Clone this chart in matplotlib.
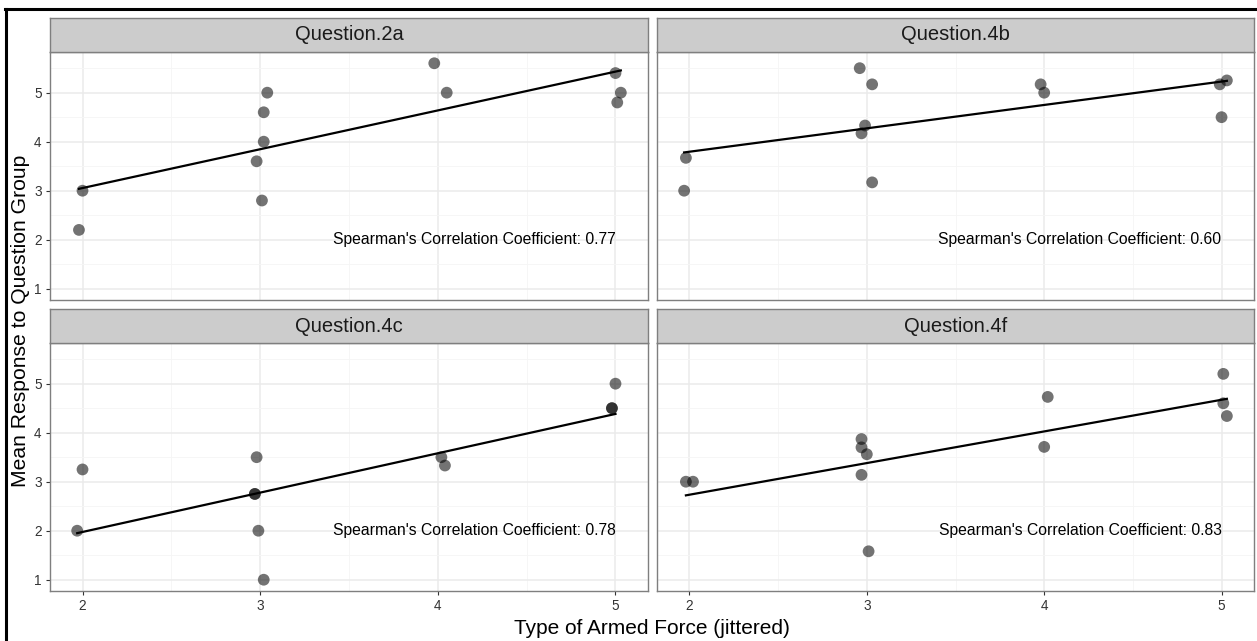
import numpy as np
import matplotlib
matplotlib.use("Agg")
import matplotlib.pyplot as plt
from matplotlib.ticker import MultipleLocator

plt.rcParams['font.family'] = ['Liberation Sans', 'DejaVu Sans']

# jittered points, one pair of lists per question
q2a_x = [1.98, 2.00, 2.98, 3.01, 3.02, 3.02, 3.04, 3.98, 4.05, 5.00, 5.03, 5.01]
q2a_y = [2.20, 3.00, 3.60, 2.80, 4.00, 4.60, 5.00, 5.60, 5.00, 5.40, 5.00, 4.80]

q4b_x = [1.97, 1.98, 2.96, 3.03, 2.99, 2.97, 3.03, 3.98, 4.00, 5.03, 4.99, 5.00]
q4b_y = [3.00, 3.67, 5.50, 5.17, 4.33, 4.17, 3.17, 5.17, 5.00, 5.25, 5.17, 4.50]

q4c_x = [1.97, 2.00, 2.98, 2.97, 2.97, 2.99, 3.02, 4.02, 4.04, 4.98, 4.98, 5.00]
q4c_y = [2.00, 3.25, 3.50, 2.75, 2.75, 2.00, 1.00, 3.50, 3.33, 4.50, 4.50, 5.00]

q4f_x = [1.98, 2.02, 2.97, 2.97, 3.00, 2.97, 3.01, 4.02, 4.00, 5.01, 5.01, 5.03]
q4f_y = [3.00, 3.00, 3.87, 3.70, 3.56, 3.14, 1.58, 4.73, 3.71, 5.20, 4.60, 4.34]

questions = ['Question.2a', 'Question.4b', 'Question.4c', 'Question.4f']
spearman = ['0.77', '0.60', '0.78', '0.83']
x_ticks = [2, 3, 4, 5]
y_ticks = [1, 2, 3, 4, 5]

panels = [(q2a_x, q2a_y), (q4b_x, q4b_y), (q4c_x, q4c_y), (q4f_x, q4f_y)]

W, H = 1257, 641
fig = plt.figure(figsize=(W / 100, H / 100), dpi=100)

# outer black frame of the screenshot (top and left only)
fig.add_artist(plt.Line2D([5 / W, 1], [1 - 9 / H, 1 - 9 / H], color='black', lw=2.2))
fig.add_artist(plt.Line2D([6 / W, 6 / W], [0, 1 - 9 / H], color='black', lw=2.2))

cols = [(50, 648), (657, 1254)]
rows = [(18, 52, 300), (309, 343, 591)]  # strip top, strip bottom / panel top, panel bottom

all_x = q2a_x + q4b_x + q4c_x + q4f_x
all_y = q2a_y + q4b_y + q4c_y + q4f_y
xr = max(all_x) - min(all_x)
yr = max(all_y) - min(all_y)
xlim = (min(all_x) - 0.05 * xr, max(all_x) + 0.05 * xr)
ylim = (min(all_y) - 0.05 * yr, max(all_y) + 0.05 * yr)

border = '#7f7f7f'

for i, (px, py) in enumerate(panels):
    r, c = divmod(i, 2)
    x0, x1 = cols[c]
    st, sb, pb = rows[r]
    ax = fig.add_axes([x0 / W, 1 - pb / H, (x1 - x0) / W, (pb - sb) / H])
    sax = fig.add_axes([x0 / W, 1 - sb / H, (x1 - x0) / W, (sb - st) / H])

    ax.set_xlim(xlim)
    ax.set_ylim(ylim)
    ax.set_xticks(x_ticks)
    ax.set_yticks(y_ticks)
    ax.xaxis.set_minor_locator(MultipleLocator(0.5))
    ax.yaxis.set_minor_locator(MultipleLocator(0.5))
    ax.grid(True, which='major', color='#ebebeb', lw=1.1, zorder=0)
    ax.grid(True, which='minor', color='#f5f5f5', lw=0.6, zorder=0)
    ax.set_axisbelow(True)
    ax.tick_params(which='minor', length=0)
    ax.tick_params(which='major', length=3, width=0.8, color='#333333',
                   labelsize=9.8, labelcolor='#333333', pad=3)
    if r == 0:
        ax.tick_params(axis='x', which='major', length=0, labelbottom=False)
    if c == 1:
        ax.tick_params(axis='y', which='major', length=0, labelleft=False)
    for sp in ax.spines.values():
        sp.set_color(border)
        sp.set_linewidth(1.0)

    ax.scatter(px, py, s=72, color='black', alpha=0.55, edgecolors='none', zorder=3)

    # straight least-squares line across the range of the points
    xs = np.array(px)
    coef = np.polyfit(xs, np.array(py), 1)
    xl = np.array([xs.min(), xs.max()])
    ax.plot(xl, np.polyval(coef, xl), color='black', lw=1.6, zorder=4)

    ax.text(5.0, 2.0, "Spearman's Correlation Coefficient: " + spearman[i],
            ha='right', va='center', fontsize=11.3, color='black', zorder=5)

    sax.set_xticks([])
    sax.set_yticks([])
    sax.set_facecolor('#cccccc')
    for sp in sax.spines.values():
        sp.set_color(border)
        sp.set_linewidth(1.0)
    sax.text(0.5, 0.5, questions[i], ha='center', va='center', fontsize=14.5,
             color='#1a1a1a', transform=sax.transAxes)

fig.text(652 / W, 1 - 628 / H, 'Type of Armed Force (jittered)', ha='center', va='center',
         fontsize=15, color='black')
fig.text(21 / W, 1 - 321 / H, 'Mean Response to Question Group', ha='center', va='center',
         rotation=90, fontsize=15.2, color='black')

fig.savefig('out.png', dpi=100)
